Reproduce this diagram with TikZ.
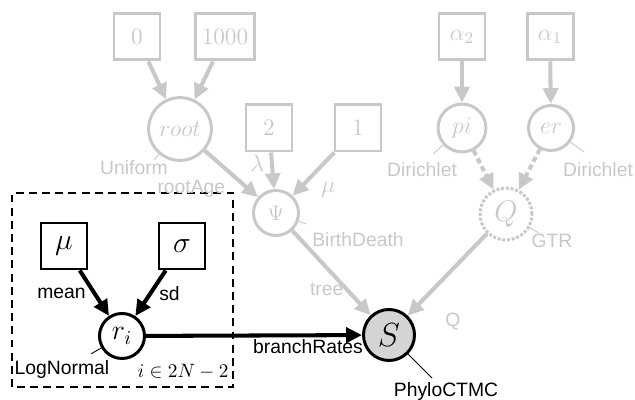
\RequirePackage{fix-cm}
\documentclass[tikz,border=0pt]{standalone}
\usepackage{fontspec}
\setsansfont{Liberation Sans}
\usetikzlibrary{arrows.meta}
\definecolor{faded}{RGB}{200,200,200}
\definecolor{obsfill}{RGB}{212,212,212}

\begin{document}
\begin{tikzpicture}[font=\fontsize{13.5pt}{16pt}\selectfont,
    const/.style={rectangle,draw,line width=1.7pt,minimum size=0.92cm,inner sep=3.5pt},
    stoch/.style={circle,draw,line width=1.7pt,minimum size=0.9cm,inner sep=4pt},
    big/.style={font=\fontsize{#1}{#1}\selectfont,inner sep=1pt},
    dist/.style={font=\sffamily\fontsize{11pt}{13pt}\selectfont,inner sep=1pt},
    arc/.style={line width=2.3pt,-{Triangle[length=9pt,width=8.5pt]}},
    dotarc/.style={arc,dash pattern=on 3pt off 2pt},
    tick/.style={line width=0.5pt},
    plate/.style={line width=1.1pt,dash pattern=on 4.5pt off 3pt},
    ghost/.style={faded}]
\useasboundingbox (0,0) rectangle (12.7,8);

% constants and stochastic nodes of the tree part
\node[const,ghost] (zero) at (2.74,7.26) {$0$};
\node[const,ghost] (thousand) at (4.50,7.26) {$1000$};
\node[stoch,ghost] (root) at (3.60,5.42) {$root$};
\node[const,ghost] (two) at (5.38,5.44) {$2$};
\node[const,ghost] (one) at (7.16,5.44) {$1$};
\node[stoch,ghost,big=12pt] (psi) at (5.52,3.74) {$\Psi$};

% substitution model
\node[const,ghost] (alphaB) at (9.24,7.26) {$\alpha_2$};
\node[const,ghost] (alphaA) at (11.00,7.26) {$\alpha_1$};
\node[stoch,ghost] (pi) at (9.24,5.44) {$pi$};
\node[stoch,ghost] (er) at (11.02,5.44) {$er$};
\node[stoch,ghost,densely dotted,big=17pt,minimum size=1.04cm] (Q) at (10.12,3.72) {$Q$};

% clamped data node
\node[stoch,fill=obsfill,big=19pt,minimum size=1.02cm] (S) at (7.78,1.30) {$S$};

% relaxed clock inside the plate
\node[stoch,big=16pt] (ri) at (2.44,1.28) {$r_i$};
\node[const,big=17pt] (mu) at (1.28,3.08) {$\mu$};
\node[const,big=17pt] (sigma) at (3.64,3.08) {$\sigma$};
\draw[plate] (0.24,0.26) rectangle (4.66,4.14);
\node[font=\fontsize{11pt}{13pt}\selectfont] (range) at (3.66,0.56) {$i\in 2N-2$};

% distribution names
\node[dist,ghost] (uniform) at (2.68,4.64) {Uniform};
\node[dist,ghost] (birthdeath) at (7.16,3.20) {BirthDeath};
\node[dist,ghost] (dirA) at (8.44,4.60) {Dirichlet};
\node[dist,ghost] (dirB) at (11.96,4.60) {Dirichlet};
\node[dist,ghost] (gtr) at (11.04,3.18) {GTR};
\node[dist] (lognormal) at (1.24,0.60) {LogNormal};
\node[dist] (phylo) at (8.92,0.16) {PhyloCTMC};

\draw[tick,ghost] (root.230) -- ++(230:0.14);
\draw[tick,ghost] (psi.-20) -- ++(-20:0.17);
\draw[tick,ghost] (pi.222) -- ++(222:0.26);
\draw[tick,ghost] (er.-36) -- ++(-36:0.34);
\draw[tick,ghost] (Q.-30) -- ++(-30:0.2);
\draw[tick] (ri.210) -- ++(210:0.23);
\draw[tick] (S.-45) -- ++(-45:0.68);

% edges
\draw[arc,ghost] (zero) -- (root);
\draw[arc,ghost] (thousand) -- (root);
\draw[arc,ghost] (root) -- node[dist,pos=0.55,below left,xshift=-0.1cm] {rootAge} (psi);
\draw[arc,ghost] (two) -- node[pos=0.3,left] {$\lambda$} (psi);
\draw[arc,ghost] (one) -- node[pos=0.5,below right] {$\mu$} (psi);
\draw[arc,ghost] (psi) -- node[dist,pos=0.7,left] {tree} (S);
\draw[arc,ghost] (alphaB) -- (pi);
\draw[arc,ghost] (alphaA) -- (er);
\draw[dotarc,ghost] (pi) -- (Q);
\draw[dotarc,ghost] (er) -- (Q);
\draw[arc,ghost] (Q) -- node[dist,pos=0.8,below right,xshift=0.36cm,yshift=-0.2cm] {Q} (S);
\draw[arc] (mu) -- node[dist,left,xshift=-0.1cm] {mean} (ri);
\draw[arc] (sigma) -- node[dist,right,xshift=0.1cm] {sd} (ri);
\draw[arc] (ri) -- node[dist,pos=0.75,below] {branchRates} (S);
\end{tikzpicture}
\end{document}
